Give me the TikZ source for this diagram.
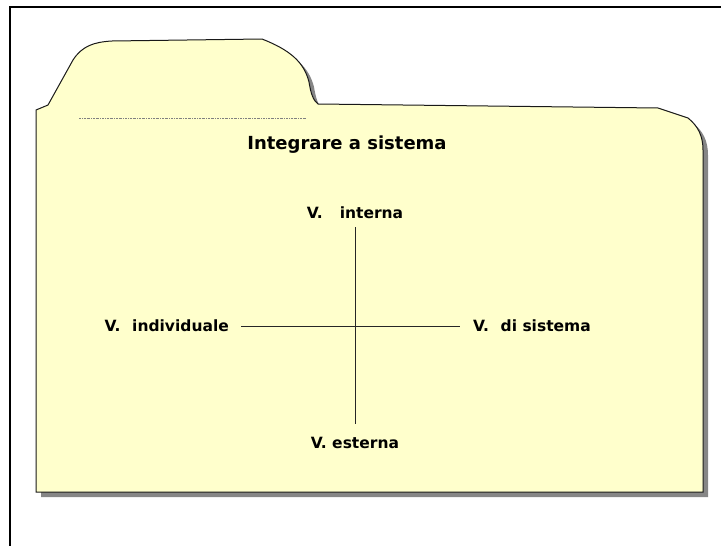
\documentclass[tikz,border=0pt]{standalone}
\usepackage{fontspec}
\setmainfont{DejaVu Sans}
\usepackage{xcolor}
\usepackage{tikz}

\definecolor{folderfill}{HTML}{FFFFCC}
\definecolor{foldershade}{HTML}{868686}

\tikzset{
  lbl/.style={inner sep=0pt, font=\bfseries\fontsize{15.5}{18}\selectfont},
  axis/.style={line width=0.9pt, draw=black!85},
}

\begin{document}
\begin{tikzpicture}[x=1pt, y=-1pt]
		\useasboundingbox (0,0) rectangle (721,546);

		% the folder outline, used twice (shade and sheet)
		\def\folder{(36,110) -- (48,105) -- (73,60)
			.. controls (82,46) and (94,42) .. (112,41) -- (262,39)
			.. controls (290,50) and (304,62) .. (309,82)
			.. controls (311,94) and (313,100) .. (318,104)
			-- (658,108) -- (688,118)
			.. controls (698,126) and (703,136) .. (703,150)
			-- (703,492) -- (36,492) -- cycle}

		\fill[foldershade, shift={(5,5)}] \folder;
		\draw[fill=folderfill, line width=1pt, draw=black!90] \folder;

		% frame lines
		\draw[line width=2pt] (9.5,546) -- (9.5,6.5) -- (721,6.5);

		% dotted rule under the tab
		\draw[gray, line width=0.6pt, dash pattern=on 2pt off 1pt on 0.6pt off 1pt] (79,118) -- (307,118);

		\node[lbl, font=\bfseries\fontsize{18}{21}\selectfont] (title) at (347,145) {Integrare a sistema};

		\node[lbl] (intern) at (355,213) {V.\hspace*{1.1em}interna};
		\node[lbl] (extern) at (355,443) {V. esterna};
		\node[lbl, anchor=east] (indiv) at (229,326) {V.\hspace*{0.75em}individuale};
		\node[lbl, anchor=west] (sist) at (473,326) {V.\hspace*{0.75em}di sistema};

		\draw[axis, shorten <=8pt, shorten >=13pt] (intern.south) -- (extern.north);
		\draw[axis, shorten <=12pt, shorten >=13pt] (indiv.east) -- (sist.west);
	\end{tikzpicture}
\end{document}
